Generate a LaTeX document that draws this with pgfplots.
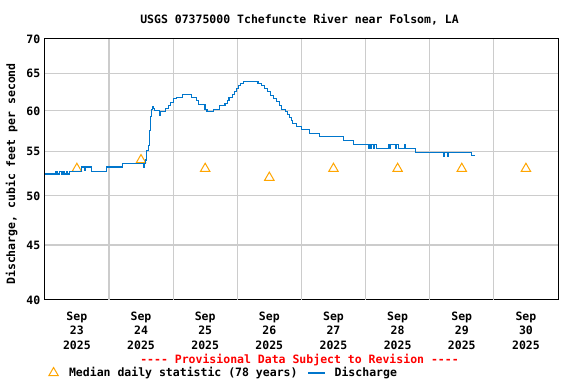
\documentclass[border=0pt]{standalone}
\usepackage{pgfplots}
\pgfplotsset{compat=1.18}
\usepackage{fontspec}
\setmainfont{DejaVu Sans Mono}[Ligatures=TeXOff]
\newcommand\cf{\fontsize{11.5bp}{14.5bp}\selectfont\bfseries}
\definecolor{gridgray}{RGB}{204,204,204}
\definecolor{qblue}{RGB}{0,118,204}
\definecolor{qorange}{RGB}{255,165,0}
\pgfplotsset{trilegend/.style={legend image code/.code={\draw[##1] plot coordinates {(0bp,0bp)}; \path (-5bp,0bp) (6bp,0bp);}},
  gl/.style={draw=gridgray, line width=1.2bp, forget plot, mark=none}}
\begin{document}
\begin{tikzpicture}
\useasboundingbox (-44.8bp,-84bp) rectangle (531.2bp,300bp);
\begin{axis}[
  scale only axis, width=513.2bp, height=261bp,
  xmin=0, xmax=8, ymode=log, ymin=40, ymax=70,
  ytick={40,45,50,55,60,65,70}, yticklabels={40,45,50,55,60,65,70},
  xtick={0.5,1.5,2.5,3.5,4.5,5.5,6.5,7.5},
  xticklabels={{Sep\\23\\2025},{Sep\\24\\2025},{Sep\\25\\2025},{Sep\\26\\2025},{Sep\\27\\2025},{Sep\\28\\2025},{Sep\\29\\2025},{Sep\\30\\2025}},
  minor x tick num=0, minor y tick num=0,
  major tick length=0, minor tick length=0,
  tick style={draw=none},
  axis line style={line width=1bp},
  tick label style={font=\cf},
  xticklabel style={align=center, yshift=-8bp},
  yticklabel style={xshift=-1bp},
  title={USGS 07375000 Tchefuncte River near Folsom, LA},
  title style={font=\cf, at={(axis description cs:0.4963,1.0766)}, anchor=center, yshift=-7bp},
  ylabel={Discharge, cubic feet per second},
  ylabel style={font=\cf, at={(axis description cs:-0.0645,0.4828)}, anchor=center},
  legend columns=2,
  legend style={draw=none, fill=none, font=\cf, at={(axis description cs:0.006,-0.2797)}, anchor=west, inner sep=0pt,
    /tikz/every odd column/.append style={column sep=7bp},
    /tikz/every even column/.append style={column sep=8bp}},
  clip mode=individual,
]
% grid lines
\addplot[gl] coordinates {(1,40) (1,70)};
\addplot[gl] coordinates {(2,40) (2,70)};
\addplot[gl] coordinates {(3,40) (3,70)};
\addplot[gl] coordinates {(4,40) (4,70)};
\addplot[gl] coordinates {(5,40) (5,70)};
\addplot[gl] coordinates {(6,40) (6,70)};
\addplot[gl] coordinates {(7,40) (7,70)};
\addplot[gl] coordinates {(0,45) (8,45)};
\addplot[gl] coordinates {(0,50) (8,50)};
\addplot[gl] coordinates {(0,55) (8,55)};
\addplot[gl] coordinates {(0,60) (8,60)};
\addplot[gl] coordinates {(0,65) (8,65)};
\addplot[only marks, mark=triangle, mark size=5.5, draw=qorange, line width=1bp, mark options={solid}, trilegend]
coordinates {(0.5,53) (1.5,54) (2.5,53) (3.5,52) (4.5,53) (5.5,53) (6.5,53) (7.5,53)};
\addlegendentry{Median daily statistic (78 years)}
\addplot[const plot, draw=qblue, line width=1.1bp, mark=none]
coordinates {
(0.000,52.4) (0.174,52.7) (0.195,52.4) (0.233,52.7) (0.257,52.4) (0.283,52.7) (0.303,52.4)
(0.335,52.7) (0.350,52.4) (0.386,52.7) (0.579,53.2) (0.615,52.8) (0.630,53.2) (0.719,53.2)
(0.735,52.7) (0.968,53.2) (1.217,53.6) (1.540,53.2) (1.556,53.6) (1.564,54.0) (1.580,54.7)
(1.591,55.1) (1.616,55.7) (1.634,57.5) (1.650,59.3) (1.665,60.2) (1.678,60.6) (1.693,60.3)
(1.712,60.0) (1.782,59.4) (1.808,59.9) (1.876,60.3) (1.927,60.7) (1.964,61.1) (2.005,61.6)
(2.047,61.8) (2.140,62.2) (2.291,61.8) (2.358,61.3) (2.389,60.8) (2.498,60.2) (2.529,59.9)
(2.630,60.2) (2.724,60.7) (2.809,61.0) (2.848,61.4) (2.872,61.8) (2.926,62.1) (2.957,62.5)
(2.988,62.9) (3.019,63.3) (3.051,63.6) (3.097,63.9) (3.323,63.6) (3.377,63.3) (3.424,62.9)
(3.471,62.5) (3.518,62.0) (3.564,61.6) (3.611,61.2) (3.658,60.7) (3.696,60.2) (3.751,59.9)
(3.782,59.5) (3.813,59.1) (3.844,58.8) (3.868,58.4) (3.925,58.0) (4.003,57.7) (4.132,57.2)
(4.288,56.8) (4.651,56.3) (4.806,55.8) (5.040,55.4) (5.058,55.8) (5.082,55.4) (5.097,55.8)
(5.121,55.4) (5.136,55.8) (5.170,55.4) (5.351,55.8) (5.377,55.4) (5.393,55.8) (5.471,55.4)
(5.486,55.8) (5.518,55.4) (5.611,55.8) (5.626,55.4) (5.778,54.9) (6.218,54.4) (6.233,54.9)
(6.280,54.4) (6.296,54.9) (6.649,54.5) (6.701,54.5)
};
\addlegendentry{Discharge}
\node[font=\cf, text=red] at (axis description cs:0.4963,-0.2222) [yshift=-2bp] {---- Provisional Data Subject to Revision ----};
\end{axis}
\end{tikzpicture}
\end{document}
